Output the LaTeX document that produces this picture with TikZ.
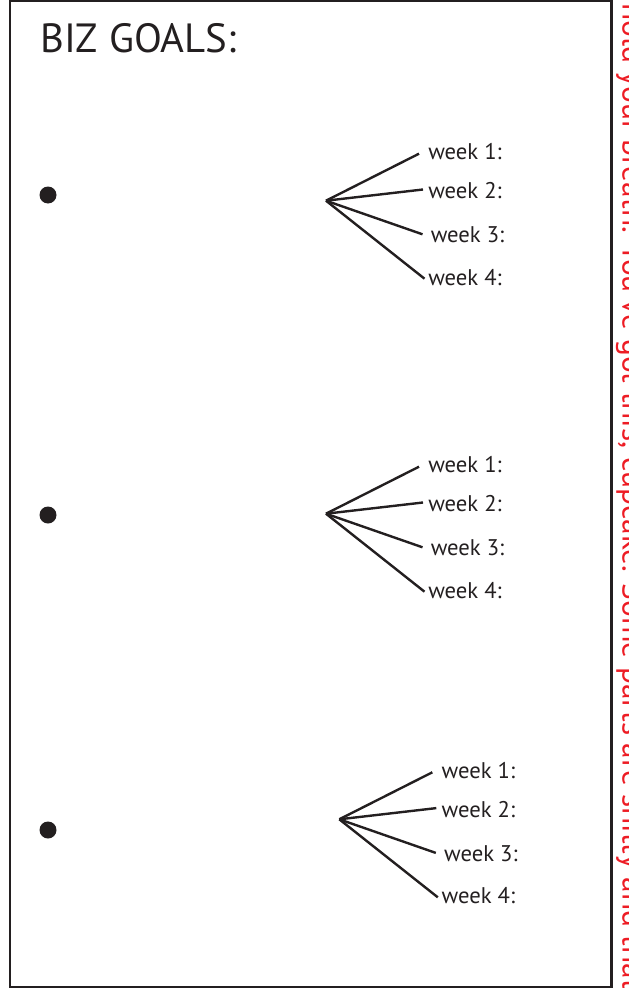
\documentclass[tikz,border=0pt]{standalone}
\usepackage{fontspec}
\setmainfont{PT Sans}
\usetikzlibrary{calc}
\definecolor{ink}{RGB}{35,31,32}
\definecolor{inkred}{RGB}{237,28,36}

% One goal: a fan of four branches ending at the week labels.
% #1 name, #2 and #3 the apex position
\newcommand{\weekfan}[3]{%
  \coordinate (#1) at (#2,#3);
  \node[weeklabel] (#1w1) at ($(#1)+(102,-41)$) {week 1:};
  \node[weeklabel] (#1w2) at ($(#1)+(102,-2.2)$) {week 2:};
  \node[weeklabel] (#1w3) at ($(#1)+(104.5,42)$) {week 3:};
  \node[weeklabel] (#1w4) at ($(#1)+(102,84.5)$) {week 4:};
  \draw[branch] (#1) -- ($(#1w1.base west)+(-9,-6)$);
  \draw[branch] (#1) -- ($(#1w2.base west)+(-5,-9)$);
  \draw[branch] (#1) -- ($(#1w3.base west)+(-8,-8.4)$);
  \draw[branch] (#1) -- ($(#1w4.base west)+(-3.5,-6.5)$);
}

\begin{document}
\begin{tikzpicture}[x=0.75pt,y=-0.75pt,
  branch/.style={line width=1.8pt, draw=ink},
  weeklabel/.style={anchor=base west, inner sep=0pt,
    font=\fontsize{17}{20}\selectfont, text=ink},
  bullet/.style={circle, fill=ink, minimum size=12.75pt, inner sep=0pt},
  frame/.style={line width=1.8pt, draw=ink}]
\useasboundingbox (0,0) rectangle (628,988);
\clip (0,0) rectangle (628,988);

% page frame
\draw[frame] (10,0.5) rectangle (611.5,987);

% heading
\node[anchor=base west, inner sep=0pt, font=\fontsize{30.6}{36}\selectfont,
  text=ink] (title) at (40,53) {BIZ GOALS:};

% goal bullets
\node[bullet] (b1) at (48,195) {};
\node[bullet] (b2) at (48,515) {};
\node[bullet] (b3) at (48,830) {};

% weekly breakdowns
\weekfan{fa}{326}{200.7}
\weekfan{fb}{326}{513.7}
\weekfan{fc}{339.3}{819.3}

% running note along the right margin, partly cut by the page edge
\node[rotate=-90, anchor=base west, inner sep=0pt,
  font=\fontsize{23.6}{28}\selectfont, text=inkred] (note) at (622.5,3)
  {hold your breath. You've got this, cupcake. Some parts are shitty and that};
\end{tikzpicture}
\end{document}
